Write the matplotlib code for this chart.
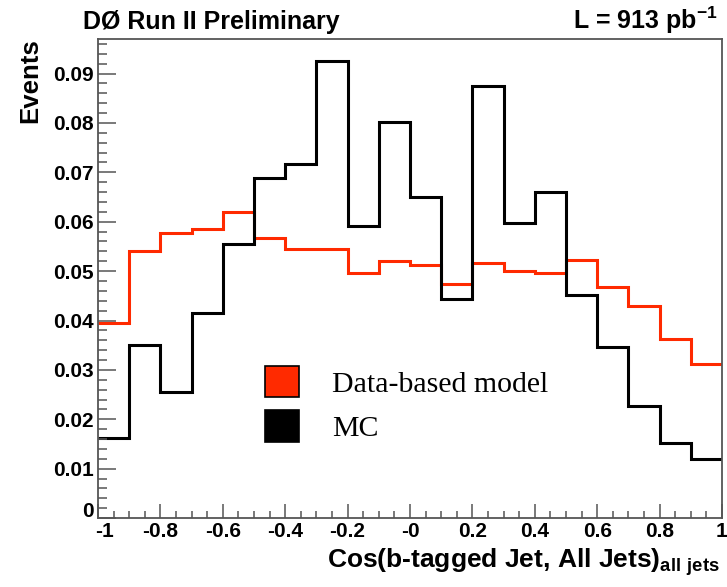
import matplotlib
matplotlib.use("Agg")
import matplotlib.pyplot as plt
from matplotlib.patches import Patch
from matplotlib.transforms import ScaledTranslation
import numpy as np

# -----------------------------
# Histogram contents (20 bins in cos, -1 .. 1)
# -----------------------------
bin_edges = np.linspace(-1.0, 1.0, 21)

data_model = [0.0395, 0.0541, 0.0578, 0.0585, 0.0619, 0.0568, 0.0544, 0.0545, 0.0497, 0.0520,
              0.0513, 0.0474, 0.0517, 0.0501, 0.0497, 0.0523, 0.0467, 0.0429, 0.0362, 0.0311]
mc = [0.0163, 0.0351, 0.0256, 0.0415, 0.0555, 0.0689, 0.0717, 0.0925, 0.0592, 0.0803,
      0.0650, 0.0443, 0.0874, 0.0598, 0.0660, 0.0451, 0.0346, 0.0227, 0.0152, 0.0119]

x_ticks = [-1.0, -0.8, -0.6, -0.4, -0.2, 0.0, 0.2, 0.4, 0.6, 0.8, 1.0]
x_tick_labels = ["-1", "-0.8", "-0.6", "-0.4", "-0.2", "-0", "0.2", "0.4", "0.6", "0.8", "1"]
y_ticks = [0.0, 0.01, 0.02, 0.03, 0.04, 0.05, 0.06, 0.07, 0.08, 0.09]
y_tick_labels = ["0", "0.01", "0.02", "0.03", "0.04", "0.05", "0.06", "0.07", "0.08", "0.09"]

red = "#ff2a00"
frame = "#555555"

plt.rcParams["font.family"] = ["Liberation Sans", "DejaVu Sans"]
plt.rcParams["font.weight"] = "bold"
plt.rcParams["mathtext.fontset"] = "custom"
plt.rcParams["mathtext.bf"] = "Liberation Sans:bold"
plt.rcParams["mathtext.rm"] = "Liberation Sans:bold"

fig = plt.figure(figsize=(7.27, 5.87), dpi=100)
ax = fig.add_axes([0.1348, 0.1175, 0.8583, 0.8160])

# -----------------------------
# Step outlines
# -----------------------------
ax.stairs(data_model, bin_edges, baseline=None, color=red, lw=2.2)
ax.stairs(mc, bin_edges, baseline=None, color="black", lw=2.2)

ax.set_xlim(-1.0, 1.0)
ax.set_ylim(0.0, 0.097)

ax.set_xticks(x_ticks)
ax.set_xticklabels(x_tick_labels)
ax.set_yticks(y_ticks)
ax.set_yticklabels(y_tick_labels)
ax.set_xticks(np.arange(-1.0, 1.001, 0.05), minor=True)
ax.set_yticks(np.arange(0.0, 0.0965, 0.002), minor=True)

ax.tick_params(axis="both", which="both", direction="in", color=frame, width=1.1,
               top=False, right=False, labelsize=15)
ax.tick_params(axis="x", which="major", length=10, pad=3)
ax.tick_params(axis="x", which="minor", length=5)
ax.tick_params(axis="y", which="major", length=13, pad=3)
ax.tick_params(axis="y", which="minor", length=6.5)
for s in ax.spines.values():
    s.set_color(frame)
    s.set_linewidth(1.3)

# keep the "0" and "-1" at the corner apart
ylab0 = ax.get_yticklabels()[0]
ylab0.set_transform(ylab0.get_transform() + ScaledTranslation(0, 6 / 72, fig.dpi_scale_trans))
xlab0 = ax.get_xticklabels()[0]
xlab0.set_transform(xlab0.get_transform() + ScaledTranslation(5 / 72, 0, fig.dpi_scale_trans))

# -----------------------------
# Labels
# -----------------------------
fig.text(83 / 727, 1 - 29 / 587, "DØ Run II Preliminary", fontsize=18,
         fontweight="bold", va="baseline")
fig.text(718 / 727, 1 - 29 / 587, r"L = 913 pb$^{\mathbf{-1}}$", fontsize=18,
         fontweight="bold", ha="right", va="baseline")
fig.text(30 / 727, 1 - 38 / 587, "Events", fontsize=18.5, fontweight="bold",
         rotation=90, ha="center", va="top")
fig.text(720 / 727, 1 - 567 / 587, r"Cos(b-tagged Jet, All Jets)$_{\mathbf{all\ jets}}$",
         fontsize=19, fontweight="bold", ha="right", va="baseline")

handles = [Patch(facecolor=red, edgecolor="black", lw=1.2),
           Patch(facecolor="black", edgecolor="black", lw=1.2)]
ax.legend(handles, ["Data-based model", "MC"], loc="upper left",
          bbox_to_anchor=(0.2676, 0.318), frameon=False, borderpad=0, borderaxespad=0,
          handlelength=1.14, handleheight=1.25, handletextpad=1.1, labelspacing=0.42,
          prop={"family": "Liberation Serif", "weight": "normal", "size": 21.5})

fig.savefig("out.png", dpi=100)
